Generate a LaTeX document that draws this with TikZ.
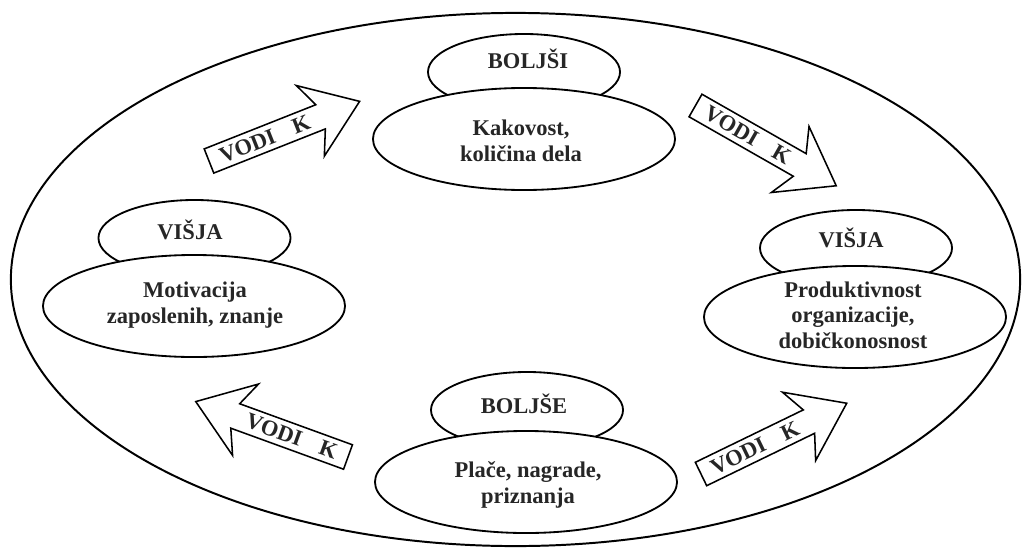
\documentclass[tikz,border=0pt]{standalone}
\usepackage{fontspec}
\setmainfont{Liberation Serif}
\usetikzlibrary{shapes.geometric}
\tikzset{
  outline/.style={ellipse, draw=black, line width=1.3pt, fill=white, inner sep=0pt},
  bigoval/.style={outline, minimum width=7.55cm, minimum height=2.55cm},
  smalloval/.style={outline, minimum width=4.8cm, minimum height=1.9cm},
  lbl/.style={font=\fontsize{16pt}{18.1pt}\selectfont\bfseries, text=black!85, align=center, inner sep=0pt},
  blockarrow/.style={draw=black, line width=1.1pt, fill=white, line join=miter},
  pics/vodi/.style={code={
    \draw[blockarrow] (0,-13) -- (120,-13) -- (109,-38) -- (162,0) -- (109,38) -- (120,13) -- (0,13) -- cycle;
    \node[lbl, rotate=#1] (-txt) at (60,0) {VODI\hspace{14pt}K};
  }},
}
\begin{document}
\begin{tikzpicture}[x=0.025cm, y=0.025cm]
  \useasboundingbox (0,0) rectangle (1024,-552);

  % surrounding cycle
  \node[outline, line width=1.4pt, minimum width=25.225cm, minimum height=13.325cm] (cycle) at (515.5,-279.5) {};

  % small caps ovals behind the main ovals
  \node[smalloval] (qhead) at (524,-72) {};
  \node[smalloval] (mhead) at (194.5,-238) {};
  \node[smalloval] (phead) at (856,-248) {};
  \node[smalloval] (rhead) at (527,-410) {};

  % main ovals
  \node[bigoval] (quality) at (524,-139) {};
  \node[bigoval] (motiv) at (194,-306) {};
  \node[bigoval] (prod) at (855,-317) {};
  \node[bigoval] (reward) at (526,-482) {};

  % texts of the small ovals
  \node[lbl, anchor=base] (qheadtxt) at (528,-68) {BOLJŠI};
  \node[lbl, anchor=base] (mheadtxt) at (190,-239) {VIŠJA};
  \node[lbl, anchor=base] (pheadtxt) at (851,-247) {VIŠJA};
  \node[lbl, anchor=base] (rheadtxt) at (524,-413) {BOLJŠE};

  % texts of the main ovals
  \node[lbl] (qualitytxt) at (521,-141) {Kakovost,\\količina dela};
  \node[lbl] (motivtxt) at (195,-305) {Motivacija\\zaposlenih, znanje};
  \node[lbl] (prodtxt) at (853,-315) {Produktivnost\\organizacije,\\dobičkonosnost};
  \node[lbl] (rewardtxt) at (528,-485) {Plače, nagrade,\\priznanja};

  % "leads to" block arrows
  \pic[rotate=21.6] (a1) at (209,-161) {vodi=21.6};
  \pic[rotate=-29.7] (a2) at (695.5,-105.5) {vodi=-29.7};
  \pic[rotate=160] (a3) at (348,-457) {vodi=-20};
  \pic[rotate=25.9] (a4) at (701,-474) {vodi=25.9};
\end{tikzpicture}
\end{document}
